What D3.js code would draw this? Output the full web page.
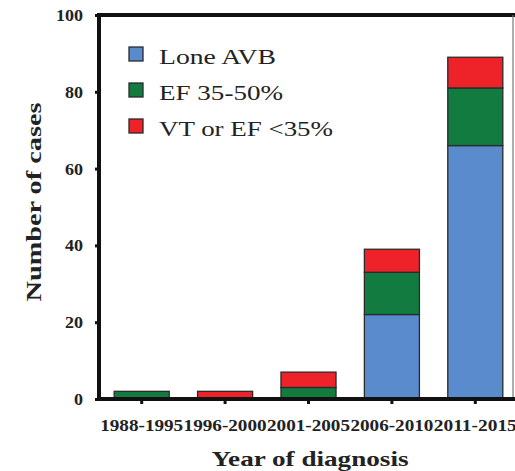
<!DOCTYPE html>
<html>
<head>
<meta charset="utf-8">
<script src="https://cdn.jsdelivr.net/npm/d3@7"></script>
<style>
  body { margin: 0; background: #fff; }
  svg { display: block; }
  text { font-family: "Liberation Serif", "Times New Roman", Times, serif; }
</style>
</head>
<body>
<svg id="chart" width="515" height="471"></svg>
<script>
// data
const periods = ["1988-1995", "1996-2000", "2001-2005", "2006-2010", "2011-2015"];
const loneAVB = [0, 0, 0, 22, 66];
const ef3550 = [2, 0, 3, 11, 15];
const vtEF35 = [0, 2, 4, 6, 8];
const seriesNames = ["Lone AVB", "EF 35-50%", "VT or EF <35%"];
const seriesColors = ["#5a8bcd", "#127c40", "#ee2229"];
const yTicks = [0, 20, 40, 60, 80, 100];

const MARGIN = { LEFT: 99, RIGHT: 0, TOP: 15, BOTTOM: 72 };
const width = 515, height = 471;
const FONT = "'Liberation Serif', 'Times New Roman', Times, serif";

const rows = periods.map((p, i) => ({
  period: p,
  "Lone AVB": loneAVB[i],
  "EF 35-50%": ef3550[i],
  "VT or EF <35%": vtEF35[i]
}));

const svg = d3.select("#chart");

const xScale = d3.scaleBand()
  .domain(periods)
  .range([MARGIN.LEFT + 1, 517])
  .paddingInner(0.34)
  .paddingOuter(0.17);

const yScale = d3.scaleLinear()
  .domain([0, 100])
  .range([height - MARGIN.BOTTOM, MARGIN.TOP]);

const color = d3.scaleOrdinal().domain(seriesNames).range(seriesColors);

const stackData = d3.stack().keys(seriesNames)(rows);

// frame: thick top line, thin right line
svg.append("line")
  .attr("x1", MARGIN.LEFT - 2).attr("x2", width)
  .attr("y1", yScale(100)).attr("y2", yScale(100))
  .attr("stroke", "#111").attr("stroke-width", 4);
svg.append("line")
  .attr("x1", 513).attr("x2", 513)
  .attr("y1", yScale(100)).attr("y2", yScale(0))
  .attr("stroke", "#777").attr("stroke-width", 1.2);

// bars
const groups = svg.append("g").selectAll("g")
  .data(stackData)
  .enter().append("g")
  .attr("fill", d => color(d.key));

groups.selectAll("rect")
  .data(d => d.filter(v => v[1] - v[0] > 0))
  .enter().append("rect")
  .attr("x", d => xScale(d.data.period))
  .attr("width", xScale.bandwidth())
  .attr("y", d => yScale(d[1]))
  .attr("height", d => yScale(d[0]) - yScale(d[1]))
  .attr("stroke", "#2a2a2a")
  .attr("stroke-width", 1.3);

// y axis
const yAxis = svg.append("g")
  .attr("transform", "translate(" + MARGIN.LEFT + ",0)")
  .call(d3.axisLeft(yScale).tickValues(yTicks).tickSize(4).tickPadding(12));
yAxis.attr("font-family", FONT);
yAxis.select(".domain").attr("stroke", "#111").attr("stroke-width", 4)
  .attr("d", "M0," + (yScale(100) - 2) + "V" + (yScale(0) + 2));
yAxis.selectAll(".tick line").attr("stroke", "#111").attr("stroke-width", 3);
yAxis.selectAll(".tick text")
  .attr("font-size", "17px").attr("font-weight", "bold").attr("fill", "#222")
  .attr("textLength", d => d === 100 ? 27 : d === 0 ? 9 : 18)
  .attr("lengthAdjust", "spacingAndGlyphs");

// x axis
const xAxis = svg.append("g")
  .attr("transform", "translate(0," + yScale(0) + ")")
  .call(d3.axisBottom(xScale).tickSize(5).tickPadding(15));
xAxis.attr("font-family", FONT);
xAxis.select(".domain").attr("stroke", "#111").attr("stroke-width", 4)
  .attr("d", "M" + (MARGIN.LEFT - 2) + ",0H" + width);
xAxis.selectAll(".tick line").attr("stroke", "#111").attr("stroke-width", 3);
xAxis.selectAll(".tick text")
  .attr("font-size", "17px").attr("font-weight", "bold").attr("fill", "#222")
  .attr("textLength", 83).attr("lengthAdjust", "spacingAndGlyphs");

// axis titles
svg.append("text")
  .attr("text-anchor", "middle")
  .attr("transform", "translate(41," + 202 + ") rotate(-90)")
  .attr("font-size", "22px").attr("font-weight", "bold").attr("fill", "#222")
  .attr("textLength", 199).attr("lengthAdjust", "spacingAndGlyphs")
  .text("Number of cases");

svg.append("text")
  .attr("text-anchor", "middle")
  .attr("x", 310).attr("y", 466)
  .attr("font-size", "22px").attr("font-weight", "bold").attr("fill", "#222")
  .attr("textLength", 197).attr("lengthAdjust", "spacingAndGlyphs")
  .text("Year of diagnosis");

// legend
const legendWidths = [117, 124, 174];
for (let i = 0; i < seriesNames.length; i++) {
  const cy = 54 + 36 * i;
  svg.append("rect")
    .attr("x", 129).attr("y", cy - 7).attr("width", 14).attr("height", 14)
    .attr("fill", color(seriesNames[i])).attr("stroke", "#2a2a2a").attr("stroke-width", 1.3);
  svg.append("text")
    .attr("x", 159).attr("y", cy + 10)
    .attr("font-size", "21px").attr("fill", "#222")
    .attr("textLength", legendWidths[i]).attr("lengthAdjust", "spacingAndGlyphs")
    .text(seriesNames[i]);
}
</script>
</body>
</html>
